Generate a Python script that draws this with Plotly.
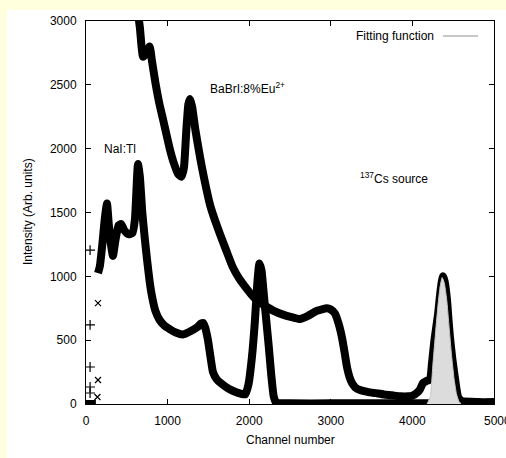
import plotly.graph_objects as go

# ---- data ----
nai_ch = [0, 40, 80, 115, None,
          147, 170, 200, 230, 257, 280, 310, 330, 360, 400, 430, 470, 520, 570, 600,
          637, 660, 690, 720, 750, 780, 810, 850, 900, 960, 1030, 1100, 1190,
          1280, 1360, 1410, 1435, 1460, 1495, 1530, 1556, 1600, 1680, 1760, 1850,
          1950, 1990, 2034, 2070, 2100, 2125, 2150, 2180, 2210, 2240, 2270, 2300,
          2330, 2500, 3000, 3500, 4000, 4500, 5000]
nai_val = [0, 0, 0, 0, None,
           1025, 1080, 1250, 1450, 1570, 1400, 1230, 1160, 1280, 1400, 1410, 1360,
           1330, 1340, 1450, 1880, 1780, 1500, 1300, 1120, 960, 840, 730, 660, 615,
           585, 560, 545, 570, 600, 630, 635, 600, 500, 350, 250, 195, 150, 115,
           90, 75, 150, 370, 650, 950, 1100, 1050, 850, 650, 450, 230, 60,
           10, 5, 5, 5, 5, 5, 5]
nai_scatter_ch = [147, 147, 140]
nai_scatter_val = [790, 188, 55]

babr_ch = [0, 40, 60, 100, 120, None,
           620, 660, 700, 740, 780, 810, 850, 900, 944, 990, 1030, 1080,
           1130, 1170, 1200, 1230, 1255, 1275, 1300, 1340, 1397, 1450, 1520, 1580,
           1642, 1720, 1800, 1880, 1973, 2050, 2120, 2218, 2300, 2414, 2520, 2622,
           2720, 2830, 2953, 3000, 3050, 3100, 3137, 3170, 3198, 3230, 3260, 3300,
           3358, 3450, 3550, 3650, 3750, 3850, 3950, 4007, 4060, 4093, 4130, 4170,
           4215, 4240, 4270, 4314, 4340, 4363, 4375, 4395, 4424, 4445, 4460, 4490,
           4522, 4545, 4560, 4600, 4800, 5000]
babr_val = [0, 0, 0, 0, 0, None,
            3150, 2950, 2720, 2750, 2800, 2680, 2520, 2350, 2230, 2100,
            1990, 1880, 1800, 1780, 1850, 2150, 2350, 2390, 2330, 2150, 1935, 1760,
            1560, 1440, 1330, 1200, 1070, 980, 900, 840, 800, 760, 730, 700, 680, 665,
            690, 730, 750, 740, 710, 620, 520, 400, 290, 210, 164, 130, 110, 95, 85,
            75, 68, 60, 60, 68, 90, 115, 165, 180, 190, 320, 500, 700, 860, 970, 1000,
            960, 815, 640, 525, 350, 200, 100, 55, 25, 15, 15]
babr_scatter_ch = [50, 50, 50, 50, 50]
babr_scatter_val = [1205, 620, 290, 133, 86]

fit_ch = [4180, 4220, 4250, 4280, 4310, 4340, 4365, 4390, 4420, 4450, 4480, 4510, 4540, 4570, 4600]
fit_val = [0, 60, 300, 530, 750, 920, 990, 950, 820, 600, 380, 200, 80, 20, 0]

x_ticks = [0, 1000, 2000, 3000, 4000, 5000]
y_ticks = [0, 500, 1000, 1500, 2000, 2500, 3000]

FONT = "Liberation Sans, Arial, sans-serif"

fig = go.Figure()
fig.add_trace(go.Scatter(x=nai_ch, y=nai_val, mode="lines",
                         line=dict(color="black", width=8, shape="spline", smoothing=0.5),
                         connectgaps=False, showlegend=False, hoverinfo="skip"))
fig.add_trace(go.Scatter(x=nai_scatter_ch, y=nai_scatter_val, mode="markers",
                         marker=dict(symbol="x-thin", size=6, color="black",
                                     line=dict(width=1.2, color="black")),
                         showlegend=False, cliponaxis=False))
fig.add_trace(go.Scatter(x=babr_ch, y=babr_val, mode="lines",
                         line=dict(color="black", width=8, shape="spline", smoothing=0.5),
                         connectgaps=False, showlegend=False, hoverinfo="skip"))
fig.add_trace(go.Scatter(x=babr_scatter_ch, y=babr_scatter_val, mode="markers",
                         marker=dict(symbol="cross-thin", size=7, color="black",
                                     line=dict(width=1.2, color="black")),
                         showlegend=False))
fig.add_trace(go.Scatter(x=fit_ch, y=fit_val, mode="lines", fill="tozeroy",
                         fillcolor="#dcdcdc",
                         line=dict(color="#c8c8c8", width=1, shape="spline", smoothing=0.5),
                         showlegend=False))

axis_common = dict(showline=True, linecolor="black", linewidth=1, mirror="ticks",
                   ticks="inside", ticklen=5, tickwidth=1, tickcolor="black",
                   showgrid=False, zeroline=False,
                   tickfont=dict(family=FONT, size=12, color="black"))
fig.update_xaxes(range=[0, 5000], tickvals=x_ticks, ticklabelstandoff=6, **axis_common)
fig.update_yaxes(range=[0, 3000], tickvals=y_ticks, ticklabelstandoff=6, **axis_common)

def px2paper(px, py):
    return (px - 86) / 408, (404 - py) / 383

annots = []
def ann(text, px, py, xanchor="left", textangle=0):
    x, y = px2paper(px, py)
    annots.append(dict(text=text, x=x, y=y, xref="paper", yref="paper",
                       xanchor=xanchor, yanchor="middle", showarrow=False,
                       textangle=textangle,
                       font=dict(family=FONT, size=12, color="black")))

ann("NaI:Tl", 102, 149)
ann("BaBrI:8%Eu<sup>2+</sup>", 208, 88)
ann("<sup>137</sup>Cs source", 358, 178)
ann("Fitting function", 436, 36, xanchor="right")
ann("Intensity (Arb. units)", 28, 212, xanchor="center", textangle=-90)
ann("Channel number", 290, 440, xanchor="center")
ann(str(x_ticks[-1]), 482, 421, xanchor="left")

lx0, ly = px2paper(443, 36)
lx1, _ = px2paper(478, 36)
bx0, by1 = px2paper(7, 10)
bx1, by0 = px2paper(506, 458)
shapes = [
    dict(type="rect", xref="paper", yref="paper", x0=bx0, x1=bx1 + 0.01, y0=by0 - 0.01, y1=by1,
         fillcolor="white", line=dict(width=0), layer="below"),
    dict(type="line", xref="paper", yref="paper", x0=lx0, x1=lx1, y0=ly, y1=ly,
         line=dict(color="#c8c8c8", width=2)),
]

fig.update_layout(width=506, height=458, margin=dict(l=86, r=12, t=21, b=54),
                  paper_bgcolor="#FFFFDD", plot_bgcolor="white",
                  annotations=annots, shapes=shapes, showlegend=False,
                  font=dict(family=FONT, size=12, color="black"))

fig.write_html("out.html")
